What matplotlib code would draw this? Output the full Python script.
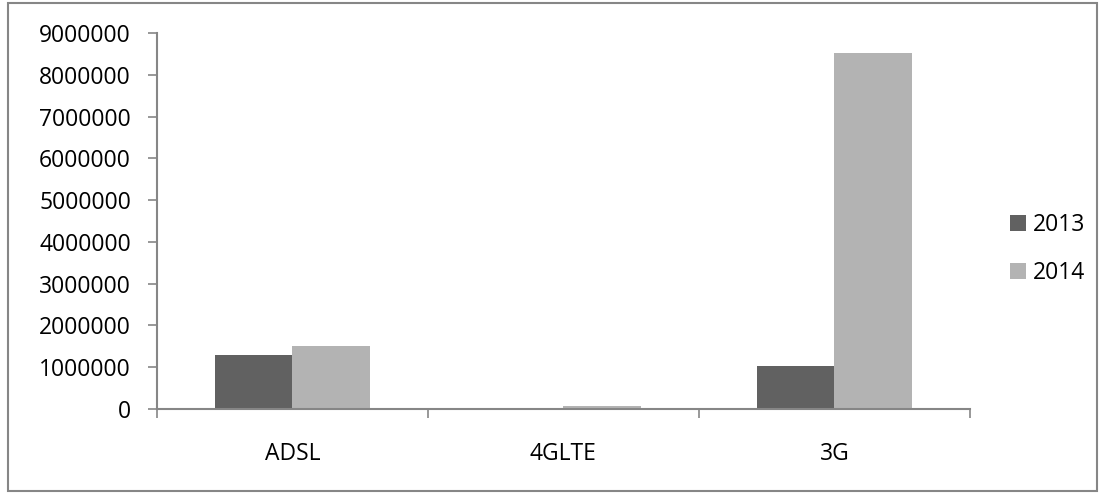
import matplotlib.pyplot as plt
import matplotlib.patches as mpatches
import numpy as np

kategorie = ['ADSL', '4GLTE', '3G']
lata = ['2013', '2014']
wartosci_2013 = [1300000, 0, 1030000]
wartosci_2014 = [1510000, 70000, 8520000]
kolory = ['#616161', '#b3b3b3']

plt.rcParams['font.family'] = ['Open Sans', 'DejaVu Sans']

fig = plt.figure(figsize=(11.06, 4.98), dpi=100)
ax = fig.add_axes([0.1417, 0.1787, 0.877 - 0.1417, 0.9337 - 0.1787])

x = np.arange(len(kategorie))
szer = 0.285
ax.bar(x - szer / 2, wartosci_2013, szer, color=kolory[0], label=lata[0])
ax.bar(x + szer / 2, wartosci_2014, szer, color=kolory[1], label=lata[1])

ax.set_xlim(-0.5, 2.5)
ax.set_ylim(0, 9000000)
ax.set_yticks(np.arange(0, 9000001, 1000000))
ax.set_yticklabels([str(v) for v in range(0, 9000001, 1000000)])

# granice kategorii jako główne znaczniki, etykiety na środku
ax.set_xticks([-0.5, 0.5, 1.5, 2.5])
ax.set_xticklabels([])
ax.set_xticks(x, minor=True)
ax.set_xticklabels(kategorie, minor=True)

szary = '#868686'
for s in ['top', 'right']:
    ax.spines[s].set_visible(False)
for s in ['left', 'bottom']:
    ax.spines[s].set_color(szary)
    ax.spines[s].set_linewidth(1.5)
ax.tick_params(axis='y', length=6.5, width=1.2, color=szary, pad=12, labelsize=16.5)
ax.tick_params(axis='x', which='major', length=6.5, width=1.2, color=szary)
ax.tick_params(axis='x', which='minor', length=0, pad=24, labelsize=16.5)

ax.legend(loc='center left', bbox_to_anchor=(0.905, 0.5), bbox_transform=fig.transFigure,
          frameon=False, fontsize=16.5, handlelength=0.7, handleheight=0.7,
          handletextpad=0.3, labelspacing=1.05, borderaxespad=0)

ramka = mpatches.Rectangle((8 / 1106, 1 - 491 / 498), 1089 / 1106, 488 / 498,
                           transform=fig.transFigure, fill=False,
                           edgecolor=szary, linewidth=1.5)
fig.patches.append(ramka)

fig.savefig('out.png', dpi=100)
